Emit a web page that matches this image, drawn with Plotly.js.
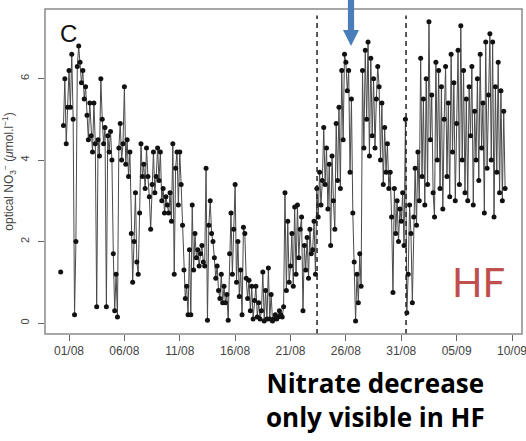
<!DOCTYPE html>
<html>
<head>
<meta charset="utf-8">
<script src="https://cdn.plot.ly/plotly-3.0.1.min.js"></script>
<style>html,body{margin:0;padding:0;background:#fff;}#chart{width:526px;height:441px;}</style>
</head>
<body>
<div id="chart"></div>
<script>
// Sampling hours within each day (3-hourly optical nitrate readings)
const sampleHours = [0, 3, 6, 9, 12, 15, 18, 21];
// Days of record
const days = [
  '2013-07-31','2013-08-01','2013-08-02','2013-08-03','2013-08-04','2013-08-05','2013-08-06','2013-08-07',
  '2013-08-08','2013-08-09','2013-08-10','2013-08-11','2013-08-12','2013-08-13','2013-08-14','2013-08-15',
  '2013-08-16','2013-08-17','2013-08-18','2013-08-19','2013-08-20','2013-08-21','2013-08-22','2013-08-23',
  '2013-08-24','2013-08-25','2013-08-26','2013-08-27','2013-08-28','2013-08-29','2013-08-30','2013-08-31',
  '2013-09-01','2013-09-02','2013-09-03','2013-09-04','2013-09-05','2013-09-06','2013-09-07','2013-09-08',
  '2013-09-09'
];
// optical NO3- (umol/l), one row per day, one value per sampling hour
const no3 = [
  [null, null, 1.25, null, 4.85, 6.0, 4.4, 5.3],
  [6.2, 5.3, 6.6, 5.0, 0.2, 2.0, 6.3, 6.8],
  [6.4, 5.9, 6.2, 5.5, 5.8, 5.1, 4.5, 5.4],
  [4.6, 4.2, 5.4, 4.4, 0.4, 4.5, 4.1, 6.0],
  [5.0, 4.4, 4.8, 0.4, 4.6, 4.2, 4.7, 4.0],
  [1.7, 0.3, 1.2, 0.15, 4.3, 4.9, 4.0, 4.4],
  [5.8, 3.9, 4.5, 3.6, 4.2, 2.2, 1.0, 2.0],
  [3.2, 1.5, 1.2, 2.7, 4.4, 3.6, 3.9, 3.3],
  [4.3, 3.6, 3.1, 2.3, 3.4, 4.2, 3.2, 3.6],
  [4.3, 3.5, 4.2, 3.0, 3.3, 2.7, 3.1, 2.9],
  [2.7, 3.2, 2.5, 4.4, 1.2, 3.8, 4.2, 2.9],
  [4.2, 3.4, 2.4, 1.3, 0.6, 0.9, 0.2, 1.8],
  [0.2, 2.9, 1.3, 2.2, 1.6, 1.8, 1.4, 1.7],
  [1.9, 1.5, 1.4, 3.8, 0.07, 2.4, 3.0, 2.2],
  [2.0, 1.6, 1.1, 1.4, 0.8, 0.6, 1.2, 0.5],
  [0.9, 0.5, 0.7, 0.07, 1.7, 2.7, 1.2, 2.3],
  [3.4, 1.0, 2.0, 0.65, 1.3, 0.2, 2.35, 2.2],
  [1.1, 0.6, 1.05, 0.3, 0.9, 0.1, 0.55, 0.9],
  [0.15, 0.5, 0.1, 0.3, 1.25, 0.05, 0.8, 0.1],
  [1.35, 0.1, 0.7, 0.05, 0.1, 0.2, 0.1, 0.15],
  [0.3, 0.2, 0.15, 0.4, 3.2, 0.8, 2.5, 1.0],
  [1.4, 2.2, 0.9, 2.85, 1.2, 2.9, 1.6, 2.3],
  [2.6, 0.3, 1.9, 1.3, 2.1, 1.1, 2.3, 1.7],
  [1.8, 2.5, 1.2, 3.3, 2.6, 3.7, 2.9, 3.5],
  [4.8, 3.4, 4.3, 2.8, 3.9, 1.9, 4.1, 3.0],
  [2.3, 4.9, 3.5, 5.3, 3.3, 6.2, 4.5, 6.6],
  [6.4, 5.7, 6.2, 3.7, 5.5, 2.7, 1.5, 0.05],
  [1.2, 0.5, 1.7, 0.9, 6.2, 4.3, 6.7, 5.0],
  [6.9, 4.1, 6.5, 4.6, 6.0, 4.3, 5.5, 6.3],
  [5.8, 4.0, 5.4, 3.4, 4.8, 3.7, 4.4, 3.3],
  [3.7, 2.6, 0.75, 3.3, 2.2, 3.0, 2.0, 2.8],
  [2.5, 3.2, 1.9, 5.0, 0.25, 1.2, 2.9, 2.2],
  [0.5, 2.6, 3.8, 2.4, 4.2, 3.0, 6.5, 3.6],
  [5.5, 2.9, 6.0, 3.4, 7.4, 4.5, 5.6, 3.2],
  [2.6, 6.4, 4.0, 6.2, 3.3, 5.8, 2.8, 5.0],
  [6.3, 3.6, 5.4, 3.1, 6.6, 4.2, 5.9, 3.0],
  [4.9, 6.7, 3.4, 7.3, 4.0, 6.2, 3.2, 5.5],
  [3.0, 5.8, 4.6, 6.3, 2.9, 5.2, 4.0, 6.0],
  [3.5, 6.6, 4.3, 5.4, 2.7, 6.9, 3.8, 5.6],
  [7.1, 4.0, 6.9, 2.6, 5.8, 3.7, 6.4, 3.2],
  [5.7, 3.0, 5.2, 3.3, null, null, null, null]
];
// Event markers (dashed vertical lines)
const eventTimes = ['2013-08-23 09:30', '2013-08-31 10:20'];
// Axis ticks
const yTicks = [0, 2, 4, 6];
const xTick0 = '2013-08-01';
const xTickStepDays = 5;

const x = [], y = [];
days.forEach((d, i) => {
  sampleHours.forEach((h, j) => {
    x.push(d + ' ' + String(h).padStart(2, '0') + ':00');
    y.push(no3[i][j]);
  });
});

const trace = {
  type: 'scatter', mode: 'lines+markers', x: x, y: y,
  connectgaps: false,
  line: {color: '#4a4a4a', width: 1},
  marker: {color: '#111', size: 5},
  hoverinfo: 'skip', showlegend: false
};

const shapes = eventTimes.map(t => ({
  type: 'line', xref: 'x', yref: 'paper', x0: t, x1: t, y0: 0, y1: 0.98,
  line: {color: '#222', width: 1.5, dash: '5px,4px'}
}));
// plot frame
shapes.push({type: 'rect', xref: 'paper', yref: 'paper', x0: 0, x1: 1, y0: 0, y1: 1,
  line: {color: '#8a8a8a', width: 1.5}, fillcolor: 'rgba(0,0,0,0)'});
// blue arrow (shaft + head)
shapes.push({type: 'rect', xref: 'paper', yref: 'paper', x0: 0.635, x1: 0.648, y0: 0.93, y1: 1.04,
  line: {width: 0}, fillcolor: '#4a7ebb'});
shapes.push({type: 'path', xref: 'paper', yref: 'paper',
  path: 'M 0.6247 0.9354 L 0.6583 0.9354 L 0.6415 0.8862 Z',
  line: {width: 0}, fillcolor: '#4a7ebb'});

const layout = {
  width: 526, height: 441,
  margin: {l: 45, r: 4, t: 9, b: 107},
  paper_bgcolor: '#fff', plot_bgcolor: '#fff',
  font: {family: 'Liberation Sans, Arial, sans-serif', color: '#444', size: 11},
  xaxis: {
    type: 'date', range: ['2013-07-29 20:00', '2013-09-10 21:36'],
    tick0: xTick0, dtick: xTickStepDays * 86400000, tickformat: '%d/%m',
    ticks: 'outside', ticklen: 6, tickcolor: '#666', showgrid: false, zeroline: false,
    showline: false, tickfont: {size: 12, color: '#444'}, ticklabeloverflow: 'allow'
  },
  yaxis: {
    range: [-0.27, 7.71], tickvals: yTicks, ticks: 'outside', ticklen: 6, tickcolor: '#666',
    tickangle: -90, showgrid: false, zeroline: false, showline: false,
    tickfont: {size: 11, color: '#444'}, ticklabelstandoff: 5,
    title: {text: 'optical NO<sub>3</sub><sup>−</sup> (<i>μ</i>mol.l<sup>−1</sup>)', font: {size: 12, color: '#444'}, standoff: 3}
  },
  shapes: shapes,
  annotations: [
    {xref: 'paper', yref: 'paper', x: 0.05, y: 0.926, xanchor: 'center', yanchor: 'middle', text: 'C', showarrow: false,
     font: {family: 'Liberation Sans, Arial', size: 24, color: '#111'}},
    {xref: 'paper', yref: 'paper', x: 0.908, y: 0.16, xanchor: 'center', yanchor: 'middle', text: 'HF', showarrow: false,
     font: {family: 'Lato, sans-serif', size: 40, color: '#c0504d'}},
    {xref: 'paper', yref: 'paper', x: 0.692, y: -0.203, xanchor: 'center', yanchor: 'middle',
     text: 'Nitrate decrease<br>only visible in HF',
     showarrow: false, align: 'center',
     font: {family: 'Open Sans, sans-serif', size: 26, color: '#000', weight: 'bold'}}
  ]
};

Plotly.newPlot('chart', [trace], layout, {staticPlot: true});
</script>
</body>
</html>
